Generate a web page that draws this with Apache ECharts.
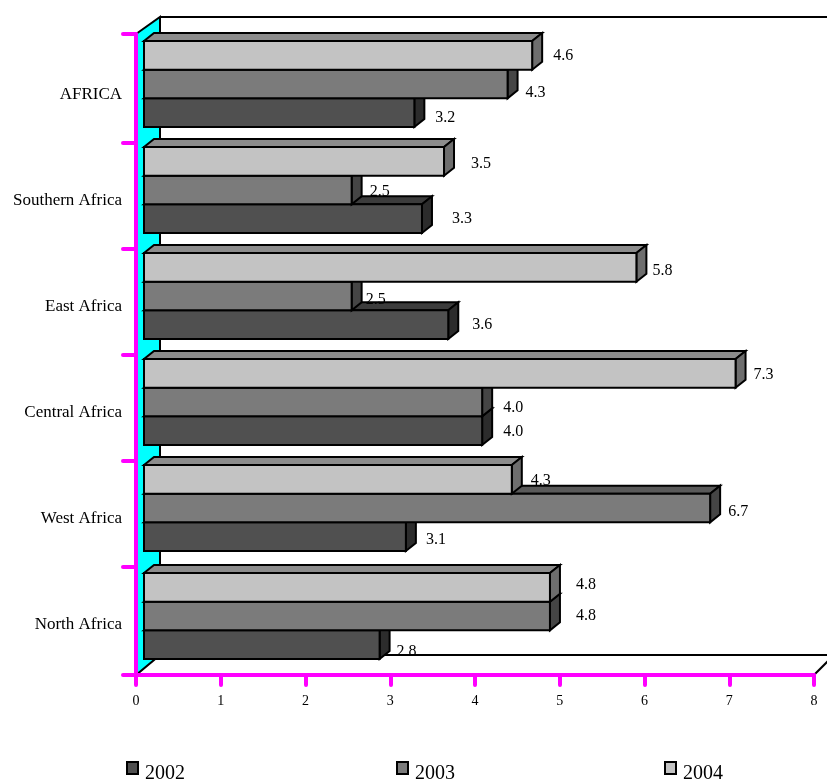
<!DOCTYPE html>
<html>
<head>
<meta charset="utf-8">
<style>html,body{margin:0;padding:0;background:#fff;overflow:hidden}#c{width:827px;height:779px}</style>
<script src="https://cdn.jsdelivr.net/npm/echarts@6/dist/echarts.min.js"></script>
</head>
<body>
<div id="c"></div>
<script>
const categories = ['AFRICA','Southern Africa','East Africa','Central Africa','West Africa','North Africa'];
const xTicks = [0,1,2,3,4,5,6,7,8];
// bar lengths as drawn
const bars2002 = [3.19,3.28,3.59,3.99,3.09,2.78];
const bars2003 = [4.29,2.45,2.45,3.99,6.68,4.79];
const bars2004 = [4.58,3.54,5.81,6.98,4.34,4.79];
// value labels as printed
const labels2002 = ['3.2','3.3','3.6','4.0','3.1','2.8'];
const labels2003 = ['4.3','2.5','2.5','4.0','6.7','4.8'];
const labels2004 = ['4.6','3.5','5.8','7.3','4.3','4.8'];

// layout only: label nudges from bar end / bar centre, in px
const nudgeX = {s2002:[31,40,34,31,30,27], s2003:[28,28,24,31,28,36], s2004:[31,37,26,28,29,36]};
const nudgeY = {s2002:[5,0,0,1,3,7], s2003:[9,2,4,6,4,0], s2004:[0,2,3,1,1,-3]};
const groupNudge = [0,0,0,0,0,2];
const FONT = '"Liberation Serif","Times New Roman",serif';

const slotTop = {s2004:0, s2003:1, s2002:2};
const faces = {
  s2002:{front:'#505050', top:'#3c3c3c', side:'#2c2c2c'},
  s2003:{front:'#7b7b7b', top:'#5a5a5a', side:'#454545'},
  s2004:{front:'#c3c3c3', top:'#8c8c8c', side:'#6e6e6e'}
};
const FRONT_DX = 8, DEPTH_X = 10, DEPTH_Y = 8, SLOT_H = 28.67, GROUP_TOP = 4;
const MAGENTA = '#ff00ff';

function geom(api, key){
  const c = api.value(1);
  const zero = api.coord([0,c]);
  const end = api.coord([api.value(0),c]);
  const band = api.size([0,1])[1];
  const y0 = zero[1] - band/2 + GROUP_TOP + groupNudge[c] + slotTop[key]*SLOT_H;
  return {x0:zero[0]+FRONT_DX, x1:end[0]+FRONT_DX, y0:y0, y1:y0+SLOT_H, c:c};
}
const stroke = {stroke:'#000', lineWidth:2, lineJoin:'miter'};
function barRender(key){
  return function(params, api){
    const g = geom(api,key), f = faces[key];
    return {type:'group', children:[
      {type:'polygon', shape:{points:[[g.x0,g.y0],[g.x0+DEPTH_X,g.y0-DEPTH_Y],[g.x1+DEPTH_X,g.y0-DEPTH_Y],[g.x1,g.y0]]}, style:Object.assign({fill:f.top},stroke)},
      {type:'polygon', shape:{points:[[g.x1,g.y0],[g.x1+DEPTH_X,g.y0-DEPTH_Y],[g.x1+DEPTH_X,g.y1-DEPTH_Y],[g.x1,g.y1]]}, style:Object.assign({fill:f.side},stroke)},
      {type:'rect', shape:{x:g.x0,y:g.y0,width:g.x1-g.x0,height:g.y1-g.y0}, style:Object.assign({fill:f.front},stroke)}
    ]};
  };
}
function labelRender(key, texts){
  return function(params, api){
    const g = geom(api,key);
    return {type:'text', style:{
      x:g.x1+nudgeX[key][g.c], y:(g.y0+g.y1)/2+nudgeY[key][g.c],
      text:texts[params.dataIndex], fill:'#000', font:'16px '+FONT, align:'center', verticalAlign:'middle'
    }};
  };
}
function wallRender(params, api){
  const a = api.coord([0,0]), b = api.coord([8,0]);
  const band = api.size([0,1])[1];
  const left = a[0], right = b[0];
  const top = a[1]-band/2-3, bot = a[1]-band/2+band*categories.length+2;
  const backX = left+24, backTop = top-17, backBot = bot-20, w = 827;
  const black = {stroke:'#000', lineWidth:2, fill:null};
  return {type:'group', children:[
    {type:'polygon', shape:{points:[[left,top],[backX,backTop],[backX,backBot],[left,bot]]}, style:{fill:'#00ffff',stroke:'#000',lineWidth:2}},
    {type:'polyline', shape:{points:[[backX,backTop],[w,backTop]]}, style:black},
    {type:'polyline', shape:{points:[[backX,backBot],[w,backBot]]}, style:black},
    {type:'polyline', shape:{points:[[right,bot],[right+20,bot-20]]}, style:black}
  ]};
}
function yTickRender(params, api){
  const a = api.coord([0,0]);
  const band = api.size([0,1])[1];
  const start = a[1]-band/2, ys = [start-3];
  for (let i=1;i<categories.length;i++) ys.push(start+band*i);
  ys.push(start+band*categories.length+2);
  const s = {stroke:MAGENTA, lineWidth:4, lineCap:'round', fill:null};
  const kids = ys.map(y=>({type:'polyline',shape:{points:[[a[0]-13,y],[a[0],y]]},style:s}));
  kids.push({type:'polyline',shape:{points:[[a[0],start-3],[a[0],start+1]]},style:s});
  return {type:'group',children:kids};
}
function seriesData(arr){ return arr.map((v,i)=>[v,i]); }
function barSeries(name,key,arr){
  return {name:name,type:'custom',coordinateSystem:'cartesian2d',silent:true,z:3,
    encode:{x:0,y:1},data:seriesData(arr),renderItem:barRender(key),
    itemStyle:{color:faces[key].front}};
}
function labelSeries(key,arr,texts){
  return {type:'custom',coordinateSystem:'cartesian2d',silent:true,z:5,
    encode:{x:0,y:1},data:seriesData(arr),renderItem:labelRender(key,texts)};
}
function legendAt(name,left){
  return {data:[name],left:left,top:761,padding:0,itemWidth:11,itemHeight:12,icon:'rect',selectedMode:false,
    itemStyle:{borderColor:'#000',borderWidth:2},
    formatter:'{a|{name}}',
    textStyle:{rich:{a:{fontFamily:FONT,fontSize:20,color:'#000',padding:[12,0,0,2]}}}};
}
const chart = echarts.init(document.getElementById('c'),null,{renderer:'canvas'});
chart.setOption({
  animation:false,
  backgroundColor:'#fff',
  grid:{left:136,top:37,width:678,height:636,containLabel:false},
  legend:[legendAt('2002',126),legendAt('2003',396),legendAt('2004',664)],
  xAxis:{type:'value',min:xTicks[0],max:xTicks[xTicks.length-1],interval:1,position:'bottom',offset:2,z:2,
    axisLine:{show:true,onZero:false,lineStyle:{color:MAGENTA,width:4,cap:'round'}},
    axisTick:{show:true,length:10,lineStyle:{color:MAGENTA,width:4,cap:'round'}},
    axisLabel:{fontFamily:FONT,fontSize:14,color:'#000',margin:19},
    splitLine:{show:false}},
  yAxis:{type:'category',data:categories,inverse:true,z:2,
    axisLine:{show:true,onZero:false,lineStyle:{color:MAGENTA,width:4}},
    axisTick:{show:false},
    axisLabel:{color:'#000',margin:14,formatter:'{a|{value}}',
      rich:{a:{fontFamily:FONT,fontSize:17,color:'#000',padding:[10,0,0,0]}}},
    splitLine:{show:false}},
  series:[
    {type:'custom',coordinateSystem:'cartesian2d',silent:true,z:1,encode:{x:0,y:1},data:[[0,0]],renderItem:wallRender},
    {type:'custom',coordinateSystem:'cartesian2d',silent:true,z:2,encode:{x:0,y:1},data:[[0,0]],renderItem:yTickRender},
    barSeries('2002','s2002',bars2002),
    barSeries('2003','s2003',bars2003),
    barSeries('2004','s2004',bars2004),
    labelSeries('s2002',bars2002,labels2002),
    labelSeries('s2003',bars2003,labels2003),
    labelSeries('s2004',bars2004,labels2004)
  ]
});
</script>
</body>
</html>
